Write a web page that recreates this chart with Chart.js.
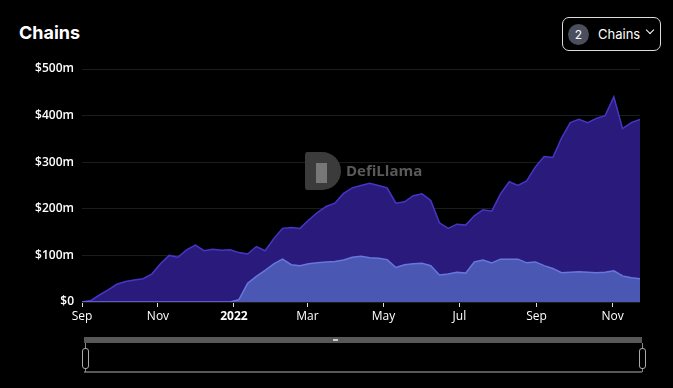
<!DOCTYPE html>
<html>
<head>
<meta charset="utf-8">
<script src="https://cdn.jsdelivr.net/npm/chart.js@4"></script>
<style>
  html, body { margin: 0; padding: 0; background: #000; }
  body { width: 673px; height: 388px; position: relative; overflow: hidden; font-family: Inter, "Noto Sans", sans-serif; }
  #title { position: absolute; left: 19px; top: 22px; color: #fff; font-size: 18px; font-weight: 700; }
  #picker { position: absolute; left: 562px; top: 17px; width: 97px; height: 32px; border: 1px solid #ddd; border-radius: 7px; color: #fff; font-size: 13px; }
  #picker .num { position: absolute; left: 5px; top: 6px; width: 21px; height: 21px; border-radius: 50%; background: #4b4e5c; text-align: center; line-height: 21px; font-size: 12px; }
  #picker .lbl { position: absolute; left: 35px; top: 8px; }
  #picker .chev { position: absolute; left: 84px; top: 9px; width: 5px; height: 5px; border-right: 1.5px solid #fff; border-bottom: 1.5px solid #fff; transform: rotate(45deg); }
  #chart { position: absolute; left: 0; top: 0; }
  .bar { position: absolute; background: #585858; }
  .handle { position: absolute; width: 5px; height: 19px; border: 1px solid #aaa; border-radius: 3px; background: #000; }
</style>
</head>
<body>
<div id="title">Chains</div>
<div id="picker"><span class="num">2</span><span class="lbl">Chains</span><span class="chev"></span></div>
<canvas id="chart" width="673" height="388"></canvas>
<div class="bar" style="left:84px;top:337px;width:558px;height:6px;"></div>
<div style="position:absolute;left:333px;top:339px;width:5px;height:2px;background:#ccc;"></div>
<div class="bar" style="left:84px;top:371px;width:558px;height:2px;"></div>
<div class="bar" style="left:85px;top:343px;width:1px;height:29px;background:#888;"></div>
<div class="bar" style="left:642px;top:343px;width:1px;height:29px;background:#888;"></div>
<div class="handle" style="left:82px;top:348px;"></div>
<div class="handle" style="left:639px;top:348px;"></div>
<script>
// weekly samples starting 2021-09-01
var startDate = '2021-09-01';
var totalTvl = [0, 3, 15, 26, 38, 44, 47, 50, 60, 82, 100, 96, 112, 122, 110, 113, 111, 112, 106, 103,
  119, 110, 136, 158, 160, 158, 176, 192, 205, 212, 233, 245, 250, 255, 250, 245, 212, 215, 228, 232,
  218, 170, 158, 167, 165, 185, 198, 195, 232, 258, 250, 260, 290, 312, 310, 352, 385, 392, 385, 394,
  400, 440, 372, 385, 392];
var secondChain = [0, 0, 0, 0, 0, 0, 0, 0, 0, 0, 0, 0, 0, 0, 0, 0, 0, 0, 5, 40,
  55, 68, 82, 92, 80, 78, 82, 84, 86, 87, 90, 96, 98, 95, 94, 91, 74, 80, 82, 83,
  78, 58, 60, 64, 62, 86, 90, 84, 92, 92, 92, 84, 86, 78, 72, 63, 64, 65, 64, 63,
  64, 67, 56, 52, 50];
var firstChain = totalTvl.map(function (v, i) { return v - secondChain[i]; });

var tickDays = [0, 61, 122, 181, 242, 303, 365, 426];
var tickLabels = ['Sep', 'Nov', '2022', 'Mar', 'May', 'Jul', 'Sep', 'Nov'];
var yTicks = [0, 100, 200, 300, 400, 500];

var days = totalTvl.map(function (v, i) { return i * 7; });
function points(arr) { return arr.map(function (v, i) { return { x: days[i], y: v }; }); }

var watermark = {
  id: 'watermark',
  beforeDatasetsDraw: function (chart) {
    var c = chart.ctx;
    c.save();
    c.fillStyle = '#3b3b3b';
    c.beginPath();
    c.moveTo(307, 152);
    c.lineTo(322, 152);
    c.arc(322, 171, 19, -Math.PI / 2, Math.PI / 2);
    c.lineTo(307, 190);
    c.quadraticCurveTo(305, 190, 305, 186);
    c.lineTo(305, 156);
    c.quadraticCurveTo(305, 152, 307, 152);
    c.fill();
    c.fillStyle = '#777';
    c.fillRect(316, 163, 11, 20);
    c.font = 'bold 15px "Open Sans", "Noto Sans", sans-serif';
    c.fillStyle = '#5a5a5a';
    c.textBaseline = 'middle';
    c.fillText('DefiLlama', 346, 172);
    c.restore();
  }
};

new Chart(document.getElementById('chart'), {
  type: 'line',
  data: {
    datasets: [{
      label: 'Chain 2',
      data: points(secondChain),
      backgroundColor: '#4a57b3',
      borderColor: '#6777de',
      borderWidth: 1.5,
      fill: 'origin',
      pointRadius: 0
    }, {
      label: 'Chain 1',
      data: points(firstChain),
      backgroundColor: '#2a1a7c',
      borderColor: '#4636c8',
      borderWidth: 1.5,
      fill: '-1',
      pointRadius: 0
    }]
  },
  options: {
    responsive: false,
    animation: false,
    layout: { padding: { left: 0, top: 69, right: 33, bottom: 56 } },
    plugins: { legend: { display: false }, tooltip: { enabled: false } },
    scales: {
      x: {
        type: 'linear',
        min: 0,
        max: 448,
        afterBuildTicks: function (s) { s.ticks = tickDays.map(function (d) { return { value: d }; }); },
        afterFit: function (s) { s.height = 30; },
        ticks: {
          color: '#fff',
          padding: 2,
          autoSkip: false,
          maxRotation: 0,
          font: function (ctx) {
            return { family: '"Open Sans", "Noto Sans", sans-serif', size: 12, weight: ctx.tick && ctx.tick.value === 122 ? 'bold' : 'normal' };
          },
          callback: function (v) { return tickLabels[tickDays.indexOf(v)]; }
        },
        grid: { drawOnChartArea: false, drawTicks: true, tickLength: 5, color: '#ddd' },
        border: { display: false }
      },
      y: {
        stacked: true,
        min: 0,
        max: 500,
        afterBuildTicks: function (s) { s.ticks = yTicks.map(function (d) { return { value: d }; }); },
        afterFit: function (s) { s.width = 82; },
        ticks: {
          color: '#fff',
          padding: 8,
          font: { family: '"Open Sans", "Noto Sans", sans-serif', size: 12, weight: '600' },
          callback: function (v) { return v === 0 ? '$0' : '$' + v + 'm'; }
        },
        grid: { color: '#1c1c1c', drawTicks: false },
        border: { display: false }
      }
    }
  },
  plugins: [watermark]
});
</script>
</body>
</html>
